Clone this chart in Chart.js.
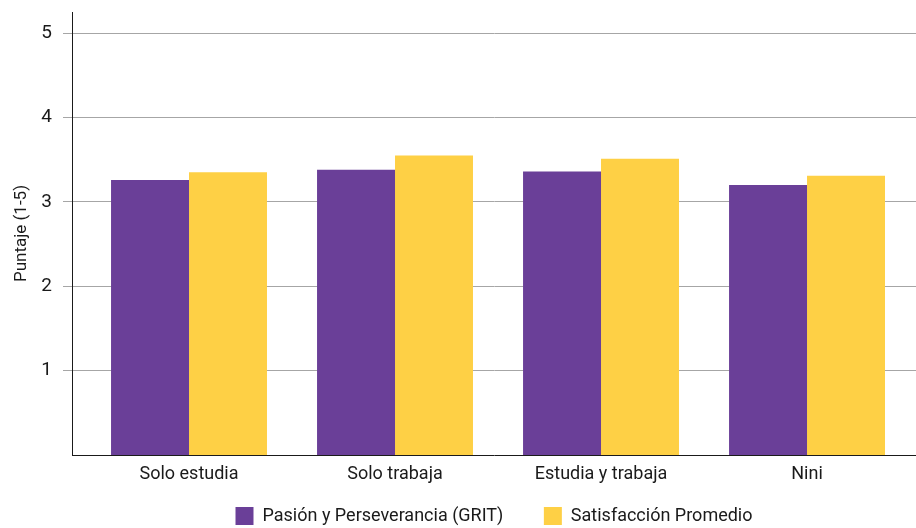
<!DOCTYPE html>
<html>
<head>
<meta charset="utf-8">
<script src="https://cdn.jsdelivr.net/npm/chart.js@4"></script>
<style>
  html, body { margin: 0; padding: 0; background: #fff; }
  #wrap { width: 916px; height: 528px; }
</style>
</head>
<body>
<div id="wrap"><canvas id="grit"></canvas></div>
<script>
// categories and values
const categories = ['Solo estudia', 'Solo trabaja', 'Estudia y trabaja', 'Nini'];
const gritValues = [3.26, 3.38, 3.36, 3.20];
const satisfaccionValues = [3.35, 3.55, 3.51, 3.31];
const yTicks = [1, 2, 3, 4, 5];

const FONT = 'Roboto, "Liberation Sans", sans-serif';

// bars sit on a linear x scale so the left/right margins match the original
const toPoints = vals => vals.map((v, i) => ({ x: i, y: v }));

new Chart(document.getElementById('grit'), {
    type: 'bar',
    data: {
        datasets: [
            { label: 'Pasión y Perseverancia (GRIT)', data: toPoints(gritValues), backgroundColor: '#6a3f98' },
            { label: 'Satisfacción Promedio', data: toPoints(satisfaccionValues), backgroundColor: '#fed045' }
        ]
    },
    options: {
        responsive: true,
        maintainAspectRatio: false,
        animation: false,
        categoryPercentage: 0.757,
        barPercentage: 1.0,
        layout: { padding: { top: 12, right: 0, left: 0, bottom: 0 } },
        scales: {
            x: {
                type: 'linear',
                offset: false,
                min: -0.568,
                max: 3.529,
                afterBuildTicks: s => { s.ticks = categories.map((c, i) => ({ value: i })); },
                afterFit: s => { s.height = 39; s.paddingLeft = 0; s.paddingRight = 0; },
                ticks: {
                    callback: v => categories[v],
                    color: '#1a1a1a',
                    font: { family: FONT, size: 18 },
                    padding: 1,
                    maxRotation: 0
                },
                grid: { display: false },
                border: { display: true, color: '#1a1a1a', width: 1 }
            },
            y: {
                min: 0,
                max: 5.25,
                afterBuildTicks: s => { s.ticks = yTicks.map(v => ({ value: v })); },
                afterFit: s => { s.width = 72; s.paddingTop = 0; s.paddingBottom = 0; },
                ticks: {
                    color: '#1a1a1a',
                    font: { family: FONT, size: 19 },
                    padding: 11
                },
                grid: { color: '#a6a6a6', tickLength: 9, tickColor: '#a6a6a6' },
                border: { display: true, color: '#1a1a1a', width: 1 },
                title: {
                    display: true,
                    text: 'Puntaje (1-5)',
                    color: '#1a1a1a',
                    font: { family: FONT, size: 17 },
                    padding: { top: 12, bottom: 0 }
                }
            }
        },
        plugins: {
            legend: {
                position: 'bottom',
                fullSize: false,   // center under the plot area, not the canvas
                maxHeight: 34,
                labels: {
                    boxWidth: 18,
                    boxHeight: 18,
                    padding: 13,
                    color: '#1a1a1a',
                    font: { family: FONT, size: 18, lineHeight: 1 },
                    // wider gap after the first entry, as in the original
                    generateLabels: chart => {
                        const items = Chart.defaults.plugins.legend.labels.generateLabels(chart);
                        items[0].text += '\u2003\u2002';
                        return items;
                    }
                }
            },
            tooltip: { enabled: false }
        }
    }
});
</script>
</body>
</html>
